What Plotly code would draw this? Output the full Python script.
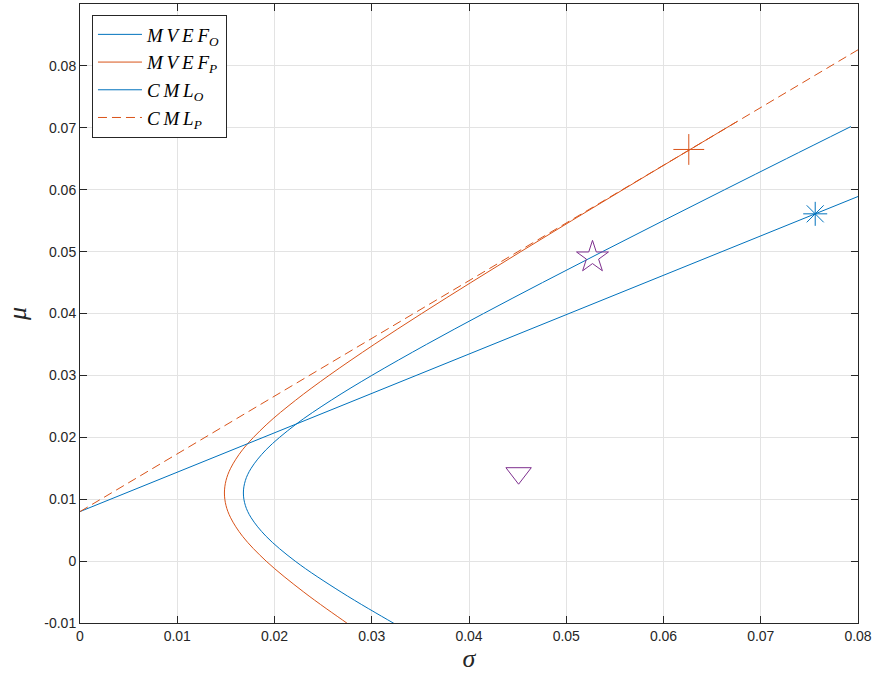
import plotly.graph_objects as go

# Mean-variance efficient frontiers (sigma, mu) for the two portfolios
mvef_o_mu = [-0.012, -0.01, -0.005, 0.0, 0.004, 0.007, 0.009, 0.011, 0.013, 0.015, 0.018,
             0.022, 0.026, 0.03, 0.035, 0.04, 0.045, 0.05, 0.055, 0.06, 0.065, 0.0702]
mvef_o_sigma = [0.03447, 0.03221, 0.02685, 0.02212, 0.01914, 0.01760, 0.01700, 0.01680, 0.01700,
                0.01760, 0.01914, 0.02212, 0.02584, 0.03001, 0.03562, 0.04150, 0.04756, 0.05373,
                0.05998, 0.06629, 0.07263, 0.07927]

mvef_p_mu = [-0.012, -0.01, -0.005, 0.0, 0.004, 0.007, 0.009, 0.011, 0.013, 0.015, 0.018,
             0.022, 0.026, 0.03, 0.035, 0.04, 0.045, 0.05, 0.055, 0.06, 0.065, 0.071]
mvef_p_sigma = [0.02930, 0.02743, 0.02301, 0.01914, 0.01672, 0.01549, 0.01501, 0.01485, 0.01501,
                0.01549, 0.01672, 0.01914, 0.02218, 0.02561, 0.03025, 0.03514, 0.04019, 0.04533,
                0.05056, 0.05583, 0.06114, 0.06755]

# Capital market lines
cml_o_sigma = [0.0, 0.08]
cml_o_mu = [0.008, 0.0589]
cml_p_sigma = [0.0, 0.08]
cml_p_mu = [0.008, 0.0826]

# Individual portfolios
tangent_p = (0.0626, 0.0665)
tangent_o = (0.0756, 0.0561)
star_pt = (0.0527, 0.0491)
tri_pt = (0.0451, 0.0142)

x_ticks = [0, 0.01, 0.02, 0.03, 0.04, 0.05, 0.06, 0.07, 0.08]
x_tick_text = ["0", "0.01", "0.02", "0.03", "0.04", "0.05", "0.06", "0.07", "0.08"]
y_ticks = [-0.01, 0, 0.01, 0.02, 0.03, 0.04, 0.05, 0.06, 0.07, 0.08, 0.09]
y_tick_text = ["-0.01", "0", "0.01", "0.02", "0.03", "0.04", "0.05", "0.06", "0.07", "0.08", "0.09"]

BLUE = "#0072BD"
ORANGE = "#D95319"
PURPLE = "#7E2F8E"
AX = "#262626"


def math_label(base, sub):
    """Italic math-style label with spread letters and an italic subscript."""
    spread = "\u2009".join(base)
    return f"<i>{spread}</i><sub><i>{sub}</i></sub>"


fig = go.Figure()
fig.add_trace(go.Scatter(x=mvef_o_sigma, y=mvef_o_mu, mode="lines", line_shape="spline",
                         line=dict(color=BLUE, width=1),
                         name=math_label("MVEF", "O")))
fig.add_trace(go.Scatter(x=mvef_p_sigma, y=mvef_p_mu, mode="lines", line_shape="spline",
                         line=dict(color=ORANGE, width=1),
                         name=math_label("MVEF", "P")))
fig.add_trace(go.Scatter(x=cml_o_sigma, y=cml_o_mu, mode="lines",
                         line=dict(color=BLUE, width=1),
                         name=math_label("CML", "O")))
fig.add_trace(go.Scatter(x=cml_p_sigma, y=cml_p_mu, mode="lines",
                         line=dict(color=ORANGE, width=1, dash="9px,5px"),
                         name=math_label("CML", "P")))

markers = [
    (tangent_p, "cross-thin-open", ORANGE, 22),
    (tangent_o, "asterisk-open", BLUE, 20),
    (star_pt, "star-open", PURPLE, 24),
    (tri_pt, "triangle-down-open", PURPLE, 22),
]
for (px, py), sym, col, sz in markers:
    fig.add_trace(go.Scatter(x=[px], y=[py], mode="markers", showlegend=False,
                             marker=dict(symbol=sym, size=sz, color=col,
                                         line=dict(color=col, width=1))))

axis_common = dict(showline=True, linecolor=AX, linewidth=1, mirror="ticks",
                   ticks="inside", ticklen=7, tickcolor=AX,
                   showgrid=True, gridcolor="#e3e3e3", gridwidth=1,
                   zeroline=False,
                   tickfont=dict(family="Liberation Sans, Arial", size=14, color=AX))

fig.update_xaxes(range=[0, 0.08], tickvals=x_ticks, ticktext=x_tick_text,
                 title=dict(text="<i>σ</i>", font=dict(family="Liberation Serif", size=26, color=AX),
                            standoff=6),
                 **axis_common)
fig.update_yaxes(range=[-0.01, 0.09], tickvals=y_ticks, ticktext=y_tick_text,
                 title=dict(text="<i>μ</i>", font=dict(family="Liberation Serif", size=26, color=AX),
                            standoff=10),
                 **axis_common)

fig.update_layout(
    width=875, height=679,
    margin=dict(l=80, r=17, t=4, b=56),
    plot_bgcolor="white", paper_bgcolor="white",
    legend=dict(x=0.0154, y=0.983, xanchor="left", yanchor="top",
                bgcolor="white", bordercolor=AX, borderwidth=1,
                font=dict(family="Liberation Serif", size=19, color="black"),
                tracegroupgap=0, itemwidth=44),
)

fig.write_html("out.html")
